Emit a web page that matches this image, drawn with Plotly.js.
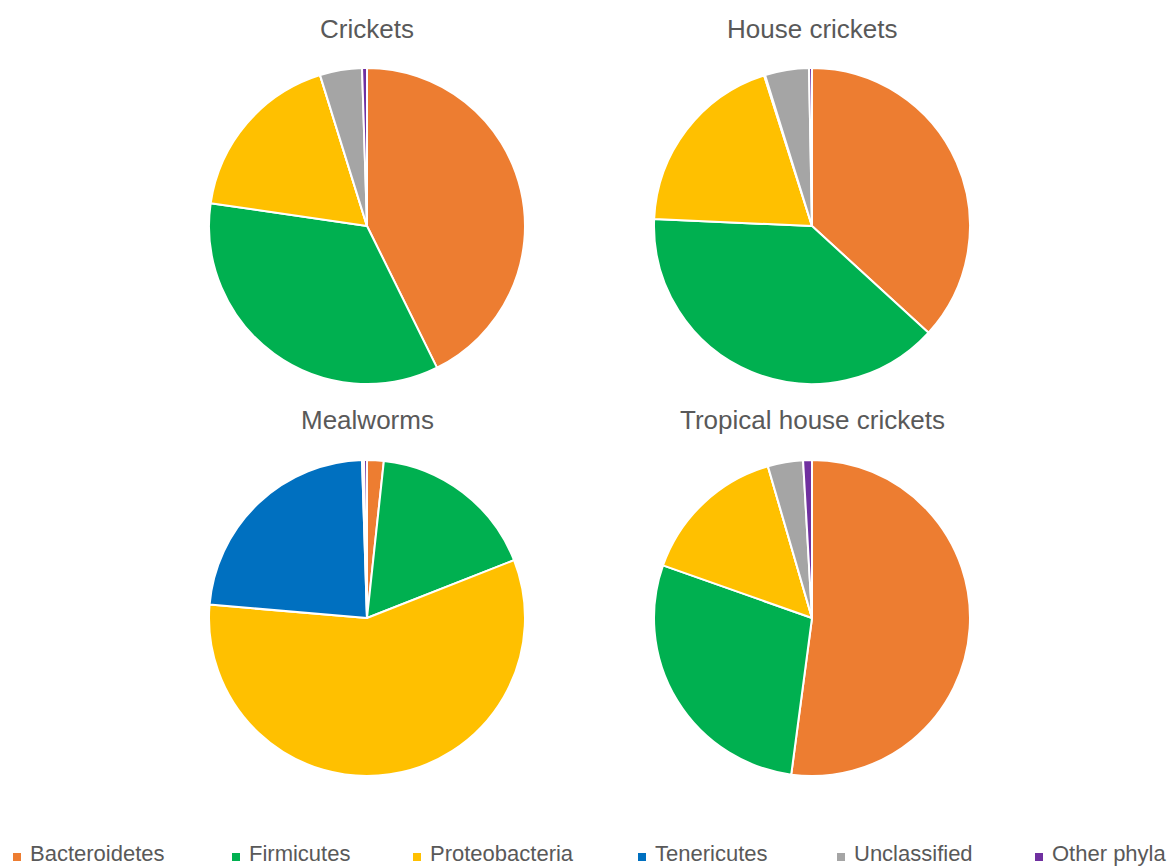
<!DOCTYPE html>
<html>
<head>
<meta charset="utf-8">
<script src="https://cdn.plot.ly/plotly-3.0.1.min.js"></script>
<style>
  html, body { margin: 0; padding: 0; background: #ffffff; }
  #chart { width: 1173px; height: 867px; }
</style>
</head>
<body>
<div id="chart"></div>
<script>
// ---- Data ----
const phyla = ["Bacteroidetes", "Firmicutes", "Proteobacteria", "Tenericutes", "Unclassified", "Other phyla"];
const panelTitles = ["Crickets", "House crickets", "Mealworms", "Tropical house crickets"];
const cricketsValues        = [42.7, 34.6, 17.9, 0.0, 4.3, 0.5];
const houseCricketsValues   = [36.8, 38.9, 19.4, 0.1, 4.5, 0.3];
const mealwormsValues       = [1.7, 17.3, 57.2, 23.1, 0.2, 0.3];
const tropicalCricketsValues= [52.1, 28.3, 15.1, 0.0, 3.6, 0.9];

// ---- Styles ----
const phylaColors = ["#ED7D31", "#00B050", "#FFC000", "#0070C0", "#A5A5A5", "#7030A0"];
const W = 1173, H = 867;
const px = x => x / W;
const py = y => 1 - y / H;

// pie placements (pixel boxes: left, top, size)
const pieBoxes = [
  {l: 209, t: 68, s: 316},
  {l: 654, t: 68, s: 316},
  {l: 209, t: 460, s: 316},
  {l: 654, t: 460, s: 316}
];
const titleCentersPx = [[367, 29], [812, 29], [367, 420], [812, 420]];
const legendMarkerLeftPx = [13, 232, 413, 638, 837, 1035];

const allValues = [cricketsValues, houseCricketsValues, mealwormsValues, tropicalCricketsValues];

const traces = allValues.map((vals, i) => {
  const b = pieBoxes[i];
  return {
    type: "pie",
    name: panelTitles[i],
    labels: phyla,
    values: vals,
    sort: false,
    direction: "clockwise",
    rotation: 0,
    textinfo: "none",
    hoverinfo: "label+percent",
    showlegend: false,
    marker: { colors: phylaColors, line: { color: "#ffffff", width: 2 } },
    domain: { x: [px(b.l), px(b.l + b.s)], y: [py(b.t + b.s), py(b.t)] }
  };
});

const annotations = panelTitles.map((t, i) => ({
  text: t,
  x: px(titleCentersPx[i][0]),
  y: py(titleCentersPx[i][1]),
  xref: "paper", yref: "paper",
  xanchor: "center", yanchor: "middle",
  showarrow: false,
  font: { family: "Liberation Sans, Arial, sans-serif", size: 26, color: "#595959" }
}));

const shapes = [];
phyla.forEach((p, i) => {
  const lx = legendMarkerLeftPx[i];
  shapes.push({
    type: "rect", xref: "paper", yref: "paper",
    x0: px(lx), x1: px(lx + 8), y0: py(861), y1: py(853),
    fillcolor: phylaColors[i], line: { width: 0 }
  });
  annotations.push({
    text: p,
    x: px(lx + 16),
    y: 0,
    xref: "paper", yref: "paper",
    xanchor: "left", yanchor: "bottom",
    borderpad: 0,
    showarrow: false,
    font: { family: "Liberation Sans, Arial, sans-serif", size: 22, color: "#595959" }
  });
});

const layout = {
  width: W, height: H,
  margin: { l: 0, r: 0, t: 0, b: 0 },
  paper_bgcolor: "#ffffff",
  plot_bgcolor: "#ffffff",
  showlegend: false,
  annotations: annotations,
  shapes: shapes
};

Plotly.newPlot("chart", traces, layout, { displayModeBar: false, staticPlot: true });
</script>
</body>
</html>
